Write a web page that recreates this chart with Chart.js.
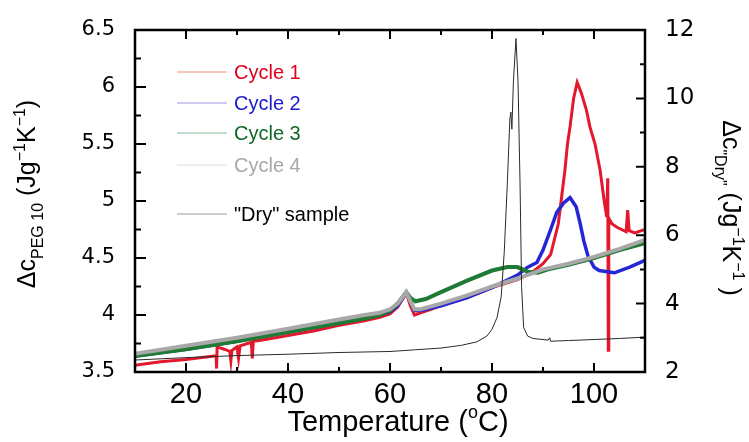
<!DOCTYPE html>
<html>
<head>
<meta charset="utf-8">
<script src="https://cdn.jsdelivr.net/npm/chart.js@4.4.1/dist/chart.umd.min.js"></script>
<style>
html,body{margin:0;padding:0;background:#fff;}
canvas{display:block;}
</style>
</head>
<body>
<canvas id="c" width="749" height="442"></canvas>
<script>
// ---- Data ----
const cycle1Temp = [10,15,20,25.5,25.9,26.0,26.1,27.5,28.6,28.8,29.0,30,30.3,30.6,32.8,33.0,33.2,35,40,45,50,55,58,60,61.5,62.5,63.2,64,64.8,66,70,75,80,85,88,90,91.5,93,94.3,94.8,95.3,96,96.7,97.5,98.5,99.2,100.2,101.2,102,102.5,102.7,102.8,102.9,103.5,104.5,106.3,106.6,106.9,108,110];
const cycle1 = [3.56,3.59,3.61,3.64,3.64,3.53,3.72,3.70,3.68,3.60,3.69,3.72,3.62,3.73,3.76,3.62,3.77,3.78,3.82,3.86,3.91,3.95,3.98,4.01,4.07,4.14,4.19,4.08,4.00,4.02,4.08,4.15,4.24,4.31,4.38,4.45,4.53,4.80,5.27,5.50,5.65,5.90,6.04,5.95,5.80,5.65,5.50,5.27,5.00,4.86,5.20,3.69,4.85,4.80,4.77,4.73,4.92,4.74,4.72,4.75];

const cycle2Temp = [10,20,30,40,50,55,58,60,61.5,62.5,63.2,64,64.8,66,70,75,80,85,87,88.8,90,91.5,92.7,94,95.3,96.5,97.3,98,98.8,100,101,104,107,110];
const cycle2 = [3.64,3.70,3.77,3.85,3.93,3.97,4.00,4.03,4.08,4.15,4.20,4.12,4.04,4.04,4.08,4.15,4.24,4.35,4.42,4.46,4.57,4.75,4.90,4.98,5.03,4.95,4.80,4.65,4.52,4.42,4.39,4.37,4.42,4.48];

const cycle3Temp = [10,20,30,40,50,55,58,60,61.5,62.5,63.2,64,65,67,70,75,80,83,85,87,89,91,95,100,105,110];
const cycle3 = [3.64,3.70,3.77,3.85,3.93,3.97,4.00,4.04,4.10,4.16,4.20,4.15,4.12,4.14,4.20,4.30,4.39,4.42,4.42,4.38,4.37,4.40,4.44,4.50,4.57,4.63];

const cycle4Temp = [10,20,30,40,50,55,58,60,61.5,62.5,63.2,64,64.8,66,70,75,80,85,90,95,100,105,110];
const cycle4 = [3.66,3.73,3.80,3.88,3.96,4.00,4.02,4.05,4.10,4.16,4.20,4.12,4.05,4.05,4.10,4.17,4.25,4.32,4.40,4.45,4.51,4.58,4.66];

const dryTemp = [10,20,30,40,50,60,65,70,74,77,79,80,81,81.8,82.4,83,83.5,83.7,83.9,84.2,84.7,85.1,85.5,85.8,86.2,87,88,90,91,91.3,91.5,95,100,105,110];
const dry = [2.35,2.42,2.48,2.52,2.57,2.60,2.65,2.70,2.78,2.88,3.05,3.25,3.60,4.20,5.50,7.50,9.40,9.60,9.10,10.50,11.75,10.50,7.50,4.50,3.30,3.05,2.98,2.95,2.93,3.00,2.90,2.92,2.95,2.98,3.02];

const seriesNames = ['Cycle 1','Cycle 2','Cycle 3','Cycle 4','"Dry" sample'];

// tick values
const xTicks = [20,40,60,80,100];
const xMinorTicks = [30,50,70,90];
const yTicks = [3.5,4,4.5,5,5.5,6,6.5];
const yMinorTicks = [3.75,4.25,4.75,5.25,5.75,6.25];
const y2Ticks = [2,4,6,8,10,12];
const y2MinorTicks = [3,5,7,9,11];

const pts = (xs, ys) => xs.map((x, i) => ({x, y: ys[i]}));

const lineColors = ['#e3182c','#2626d6','#1e7a34','#a8a8a8','#2a2a2a'];
const legendLineColors = ['#f08a8a','#9a9ae6','#86b896','#dcdcdc','#9a9a9a'];
const legendTextColors = ['#e0001b','#1a1acc','#106828','#a8a8a8','#000000'];

function drawRich(ctx, parts, x, y, align, family) {
  let w = 0;
  parts.forEach(p => { ctx.font = p.size + 'px ' + family; w += ctx.measureText(p.t).width; });
  let cx = align === 'center' ? x - w / 2 : x;
  parts.forEach(p => {
    ctx.font = p.size + 'px ' + family;
    ctx.fillText(p.t, cx, y + (p.dy || 0));
    cx += ctx.measureText(p.t).width;
  });
}

const decor = {
  id: 'decor',
  afterDraw(chart) {
    const ctx = chart.ctx;
    const {left, right, top, bottom} = chart.chartArea;
    const xs = chart.scales.x, ys = chart.scales.y, ys2 = chart.scales.y2;
    ctx.save();
    ctx.strokeStyle = '#000';
    ctx.lineWidth = 2;
    ctx.beginPath();
    xTicks.forEach(v => { const p = xs.getPixelForValue(v); ctx.moveTo(p, bottom); ctx.lineTo(p, bottom - 9); ctx.moveTo(p, top); ctx.lineTo(p, top + 9); });
    xMinorTicks.forEach(v => { const p = xs.getPixelForValue(v); ctx.moveTo(p, bottom); ctx.lineTo(p, bottom - 5); ctx.moveTo(p, top); ctx.lineTo(p, top + 5); });
    yTicks.forEach(v => { const p = ys.getPixelForValue(v); ctx.moveTo(left, p); ctx.lineTo(left + 11, p); });
    yMinorTicks.forEach(v => { const p = ys.getPixelForValue(v); ctx.moveTo(left, p); ctx.lineTo(left + 6, p); });
    y2Ticks.forEach(v => { const p = ys2.getPixelForValue(v); ctx.moveTo(right, p); ctx.lineTo(right - 9, p); });
    y2MinorTicks.forEach(v => { const p = ys2.getPixelForValue(v); ctx.moveTo(right, p); ctx.lineTo(right - 5, p); });
    ctx.stroke();
    ctx.lineWidth = 2.5;
    ctx.strokeRect(left, top, right - left, bottom - top);

    // legend
    const rows = [72, 103, 133, 165, 214];
    ctx.textBaseline = 'middle';
    ctx.textAlign = 'left';
    rows.forEach((ry, i) => {
      ctx.strokeStyle = legendLineColors[i];
      ctx.lineWidth = 1;
      ctx.beginPath(); ctx.moveTo(177, ry); ctx.lineTo(227, ry); ctx.stroke();
      ctx.fillStyle = legendTextColors[i];
      ctx.font = '20px "Liberation Sans", Arial, sans-serif';
      ctx.fillText(seriesNames[i], 234, ry + 1);
    });

    // axis titles
    const fam = '"Liberation Sans", Arial, sans-serif';
    ctx.fillStyle = '#000';
    ctx.textBaseline = 'alphabetic';
    ctx.textAlign = 'left';
    drawRich(ctx, [
      {t: 'Temperature (', size: 29},
      {t: 'o', size: 18, dy: -13},
      {t: 'C)', size: 29}
    ], (left + right) / 2 + 8, 431, 'center', fam);

    ctx.save();
    ctx.translate(35, 194);
    ctx.rotate(-Math.PI / 2);
    drawRich(ctx, [
      {t: '\u0394c', size: 25},
      {t: 'PEG 10', size: 16, dy: 8},
      {t: ' (Jg', size: 25},
      {t: '\u22121', size: 16, dy: -10},
      {t: 'K', size: 25},
      {t: '\u22121', size: 16, dy: -10},
      {t: ')', size: 25}
    ], 0, 0, 'center', fam);
    ctx.restore();

    ctx.save();
    ctx.translate(723, 208);
    ctx.rotate(Math.PI / 2);
    drawRich(ctx, [
      {t: '\u0394c', size: 25},
      {t: '"Dry"', size: 16, dy: 8},
      {t: ' (Jg', size: 25},
      {t: '\u22121', size: 16, dy: -10},
      {t: 'K', size: 25},
      {t: '\u22121', size: 16, dy: -10},
      {t: ' )', size: 25}
    ], 0, 0, 'center', fam);
    ctx.restore();
    ctx.restore();
  }
};

new Chart(document.getElementById('c'), {
  type: 'line',
  data: {
    datasets: [
      {label: seriesNames[0], data: pts(cycle1Temp, cycle1), borderColor: lineColors[0], borderWidth: 3, yAxisID: 'y', order: 4},
      {label: seriesNames[1], data: pts(cycle2Temp, cycle2), borderColor: lineColors[1], borderWidth: 3.5, yAxisID: 'y', order: 3},
      {label: seriesNames[2], data: pts(cycle3Temp, cycle3), borderColor: lineColors[2], borderWidth: 4, yAxisID: 'y', order: 2},
      {label: seriesNames[3], data: pts(cycle4Temp, cycle4), borderColor: lineColors[3], borderWidth: 4, yAxisID: 'y', order: 1},
      {label: seriesNames[4], data: pts(dryTemp, dry), borderColor: lineColors[4], borderWidth: 1, yAxisID: 'y2', order: 0}
    ]
  },
  options: {
    responsive: false,
    animation: false,
    layout: {padding: {top: 30, left: 0, right: 0, bottom: 0}},
    elements: {point: {radius: 0}, line: {tension: 0, fill: false}},
    plugins: {legend: {display: false}, tooltip: {enabled: false}},
    scales: {
      x: {
        type: 'linear', min: 10, max: 110,
        afterBuildTicks: s => { s.ticks = xTicks.map(v => ({value: v})); },
        afterFit: s => { s.height = 70; },
        grid: {display: false}, border: {display: false},
        ticks: {color: '#000', padding: -2, maxRotation: 0, autoSkip: false, font: {family: '"Liberation Sans", Arial, sans-serif', size: 29}, callback: v => String(v)}
      },
      y: {
        type: 'linear', position: 'left', min: 3.5, max: 6.5,
        afterBuildTicks: s => { s.ticks = yTicks.map(v => ({value: v})); },
        afterFit: s => { s.width = 135; },
        grid: {display: false}, border: {display: false},
        ticks: {color: '#000', padding: 12, autoSkip: false, font: {family: '"DejaVu Sans", sans-serif', size: 21}, callback: v => String(v)}
      },
      y2: {
        type: 'linear', position: 'right', min: 2, max: 12,
        afterBuildTicks: s => { s.ticks = y2Ticks.map(v => ({value: v})); },
        afterFit: s => { s.width = 104; },
        grid: {display: false}, border: {display: false},
        ticks: {color: '#000', padding: 12, autoSkip: false, font: {family: '"DejaVu Sans", sans-serif', size: 23}, callback: v => String(v)}
      }
    }
  },
  plugins: [decor]
});
</script>
</body>
</html>
